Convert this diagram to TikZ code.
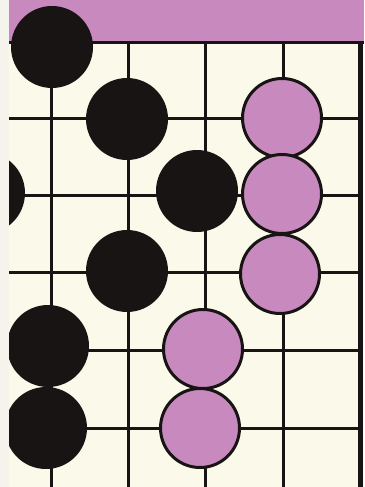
\documentclass[tikz,border=0pt]{standalone}
\usepackage{tikz}
\usetikzlibrary{positioning}

\definecolor{boardcream}{RGB}{251,249,234}
\definecolor{paperedge}{RGB}{244,243,236}
\definecolor{stonepink}{RGB}{200,138,190}
\definecolor{inkblack}{RGB}{24,20,20}

\tikzset{
  gridline/.style={line width=3pt, draw=inkblack},
  blackstone/.style={circle, fill=inkblack, minimum size=82pt, inner sep=0pt},
  pinkstone/.style={circle, fill=stonepink, draw=inkblack, line width=3pt, minimum size=79pt, inner sep=0pt}
}

\begin{document}
\begin{tikzpicture}[x=1pt, y=-1pt]
		% --- Geometry Defs ---
		\def\Left{9}
		\def\Right{360}
		\def\Top{43}
		\def\Bottom{487}
		
		% --- Paper and Board ---
		\useasboundingbox (0,0) rectangle (364,487);
		\fill[paperedge] (0,0) rectangle (364,487);
		\begin{scope}
			\clip (\Left,0) rectangle (364,487);
			\fill[boardcream] (\Left,0) rectangle (364,487);
			
			% Pink band (top)
			\fill[stonepink] (\Left,0) rectangle (364,\Top);
			
			% --- Grid Lines ---
			\draw[gridline] (\Left,\Top) -- (364,\Top);
			\foreach \y in {118,195,272,350,428}
				\draw[gridline] (\Left,\y) -- (\Right,\y);
			\foreach \x in {51,128,205,283}
				\draw[gridline] (\x,\Top) -- (\x,\Bottom);
			\draw[line width=5pt, draw=inkblack] (\Right,\Top) -- (\Right,\Bottom);
			
			% --- Black Stones ---
			\node[blackstone] (b1) at (52,47) {};
			\node[blackstone] (b2) at (127,119) {};
			\node[blackstone] (b3) at (-16,193) {};
			\node[blackstone] (b4) at (197,191) {};
			\node[blackstone] (b5) at (127,271) {};
			\node[blackstone] (b6) at (48,346) {};
			\node[blackstone] (b7) at (46,428) {};
			
			% --- Pink Stones ---
			\node[pinkstone] (p1) at (282,118) {};
			\node[pinkstone] (p2) at (282,194) {};
			\node[pinkstone] (p3) at (280,274) {};
			\node[pinkstone] (p4) at (203,349) {};
			\node[pinkstone] (p5) at (200,428) {};
		\end{scope}
	\end{tikzpicture}
\end{document}
